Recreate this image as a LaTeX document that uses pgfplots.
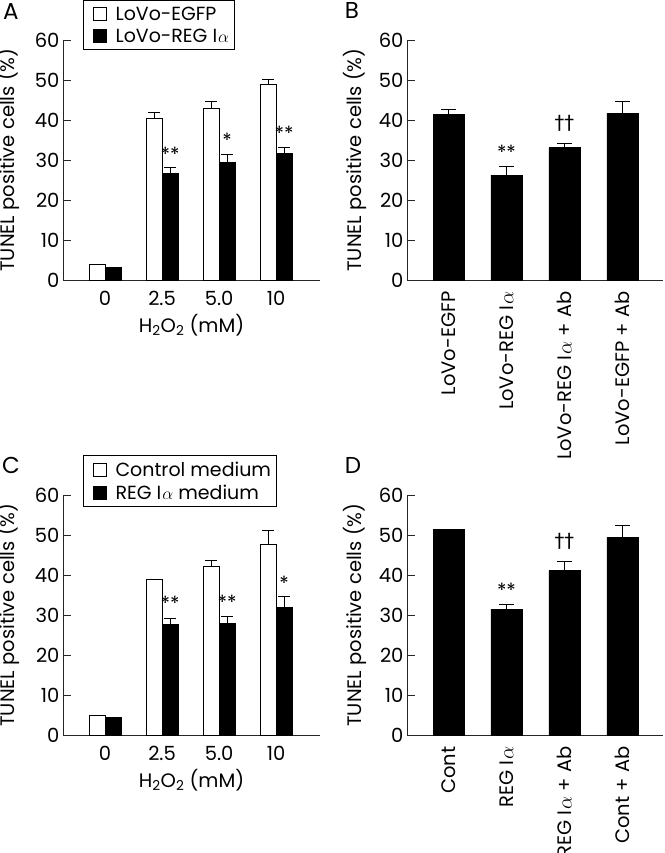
\documentclass[border=0pt]{standalone}
\usepackage{fontspec}
\setmainfont{Poppins}
\newfontfamily\djv{DejaVu Sans}
\usepackage{pgfplots}
\pgfplotsset{compat=1.18}
\newcommand{\Ia}{I\kern1pt$\alpha$}
\newcommand{\fs}{\fontsize{19.5}{23}\selectfont}
\newcommand{\fl}{\fontsize{19}{23}\selectfont}
\pgfplotsset{
  panel/.style={
    scale only axis, height=240pt,
    axis lines=left, axis line style={-, line width=1pt, black!85},
    ymin=0, ymax=60, ytick={0,10,...,60},
    tick align=inside, major tick length=8pt,
    tick style={line width=1pt, black!85},
    xtick style={draw=none},
    /pgf/number format/assume math mode=true,
    tick label style={font=\fs},
    label style={font=\fs},
    ylabel={TUNEL positive cells (\%)},
    xtick={0,1,2,3},
    clip=false,
    ybar=0pt,
    error bars/y dir=plus, error bars/y explicit,
    error bars/error bar style={line width=1pt, black},
    error bars/error mark options={line width=1pt, black, mark size=6pt, rotate=90},
  },
  dose/.style={panel, width=257pt, xmin=-0.737, xmax=3.77, bar width=16pt,
    xticklabels={0,2.5,5.0,10},
    xlabel={H\textsubscript{2}O\textsubscript{2} (mM)},
    xlabel style={at={(axis description cs:0.5,-0.1875)}, anchor=center},
    ylabel style={at={(axis description cs:-0.214,0.5)}, anchor=center},
    legend style={at={(axis description cs:0.078,1.165)}, anchor=north west,
      draw=black, line width=1pt, font=\fl, legend cell align=left,
      inner xsep=3pt, inner ysep=4pt, row sep=3pt},
    legend image code/.code={\path[draw=none,fill=none] (-5pt,0pt) -- (22pt,0pt);\draw[#1, line width=0.8pt] (2pt,-6.5pt) rectangle (15pt,6.5pt);},
  },
  cond/.style={panel, width=256pt, xmin=-0.716, xmax=3.70, bar width=31pt,
    error bars/error mark options={line width=1pt, black, mark size=7.5pt, rotate=90},
    xticklabel style={rotate=90, anchor=east},
    ylabel style={at={(axis description cs:-0.203,0.5)}, anchor=center},
  },
  whitebar/.style={fill=white, draw=black, line width=0.8pt},
  blackbar/.style={fill=black, draw=black, line width=0.8pt},
}
\begin{document}
\begin{tikzpicture}[x=1pt,y=1pt]
\useasboundingbox (0,0) rectangle (664,-853);
% ---------- A
\begin{axis}[dose, at={(63pt,-280pt)}, anchor=south west]
\addplot[whitebar] coordinates {(0,3.8) +- (0,0) (1,40.4) +- (0,1.5) (2,42.9) +- (0,1.7) (3,49.0) +- (0,1.25)};
\addplot[blackbar] coordinates {(0,3.1) +- (0,0) (1,26.6) +- (0,1.5) (2,29.5) +- (0,1.9) (3,31.7) +- (0,1.55)};
\legend{LoVo-EGFP, LoVo-REG \Ia}
\node[font=\fs] at ([xshift=8pt]axis cs:1,31.5) {**};
\node[font=\fs] at ([xshift=8pt]axis cs:2,35.0) {*};
\node[font=\fs] at ([xshift=8pt]axis cs:3,36.7) {**};
\end{axis}
% ---------- B
\begin{axis}[cond, at={(407pt,-280pt)}, anchor=south west,
  xticklabels={LoVo-EGFP, LoVo-REG \Ia, LoVo-REG \Ia{} + Ab, LoVo-EGFP + Ab}]
\addplot[blackbar] coordinates {(0,41.4) +- (0,1.2) (1,26.2) +- (0,2.2) (2,33.1) +- (0,1.15) (3,41.75) +- (0,2.95)};
\node[font=\fs] at (axis cs:1,31.8) {**};
\node[font=\fs\djv] at (axis cs:2,39.2) {††};
\end{axis}
% ---------- C
\begin{axis}[dose, at={(63pt,-735pt)}, anchor=south west]
\addplot[whitebar] coordinates {(0,5.0) +- (0,0) (1,38.9) +- (0,0) (2,42.1) +- (0,1.65) (3,47.7) +- (0,3.4)};
\addplot[blackbar] coordinates {(0,4.3) +- (0,0) (1,27.75) +- (0,1.45) (2,28.0) +- (0,1.7) (3,31.9) +- (0,2.7)};
\legend{Control medium, REG \Ia{} medium}
\node[font=\fs] at ([xshift=8pt]axis cs:1,32.8) {**};
\node[font=\fs] at ([xshift=8pt]axis cs:2,33.1) {**};
\node[font=\fs] at ([xshift=8pt]axis cs:3,37.9) {*};
\end{axis}
% ---------- D
\begin{axis}[cond, at={(407pt,-735pt)}, anchor=south west,
  xticklabels={Cont, REG \Ia, REG \Ia{} + Ab, Cont + Ab}]
\addplot[blackbar] coordinates {(0,51.5) +- (0,0) (1,31.5) +- (0,1.25) (2,41.1) +- (0,2.3) (3,49.5) +- (0,2.9)};
\node[font=\fs] at (axis cs:1,36.25) {**};
\node[font=\fs\djv] at (axis cs:2,48.3) {††};
\end{axis}
% panel letters
\node[font=\fontsize{23}{27}\selectfont] at (11,-12) {A};
\node[font=\fontsize{23}{27}\selectfont] at (352,-10) {B};
\node[font=\fontsize{23}{27}\selectfont] at (11,-465) {C};
\node[font=\fontsize{23}{27}\selectfont] at (353,-465) {D};
\end{tikzpicture}
\end{document}
